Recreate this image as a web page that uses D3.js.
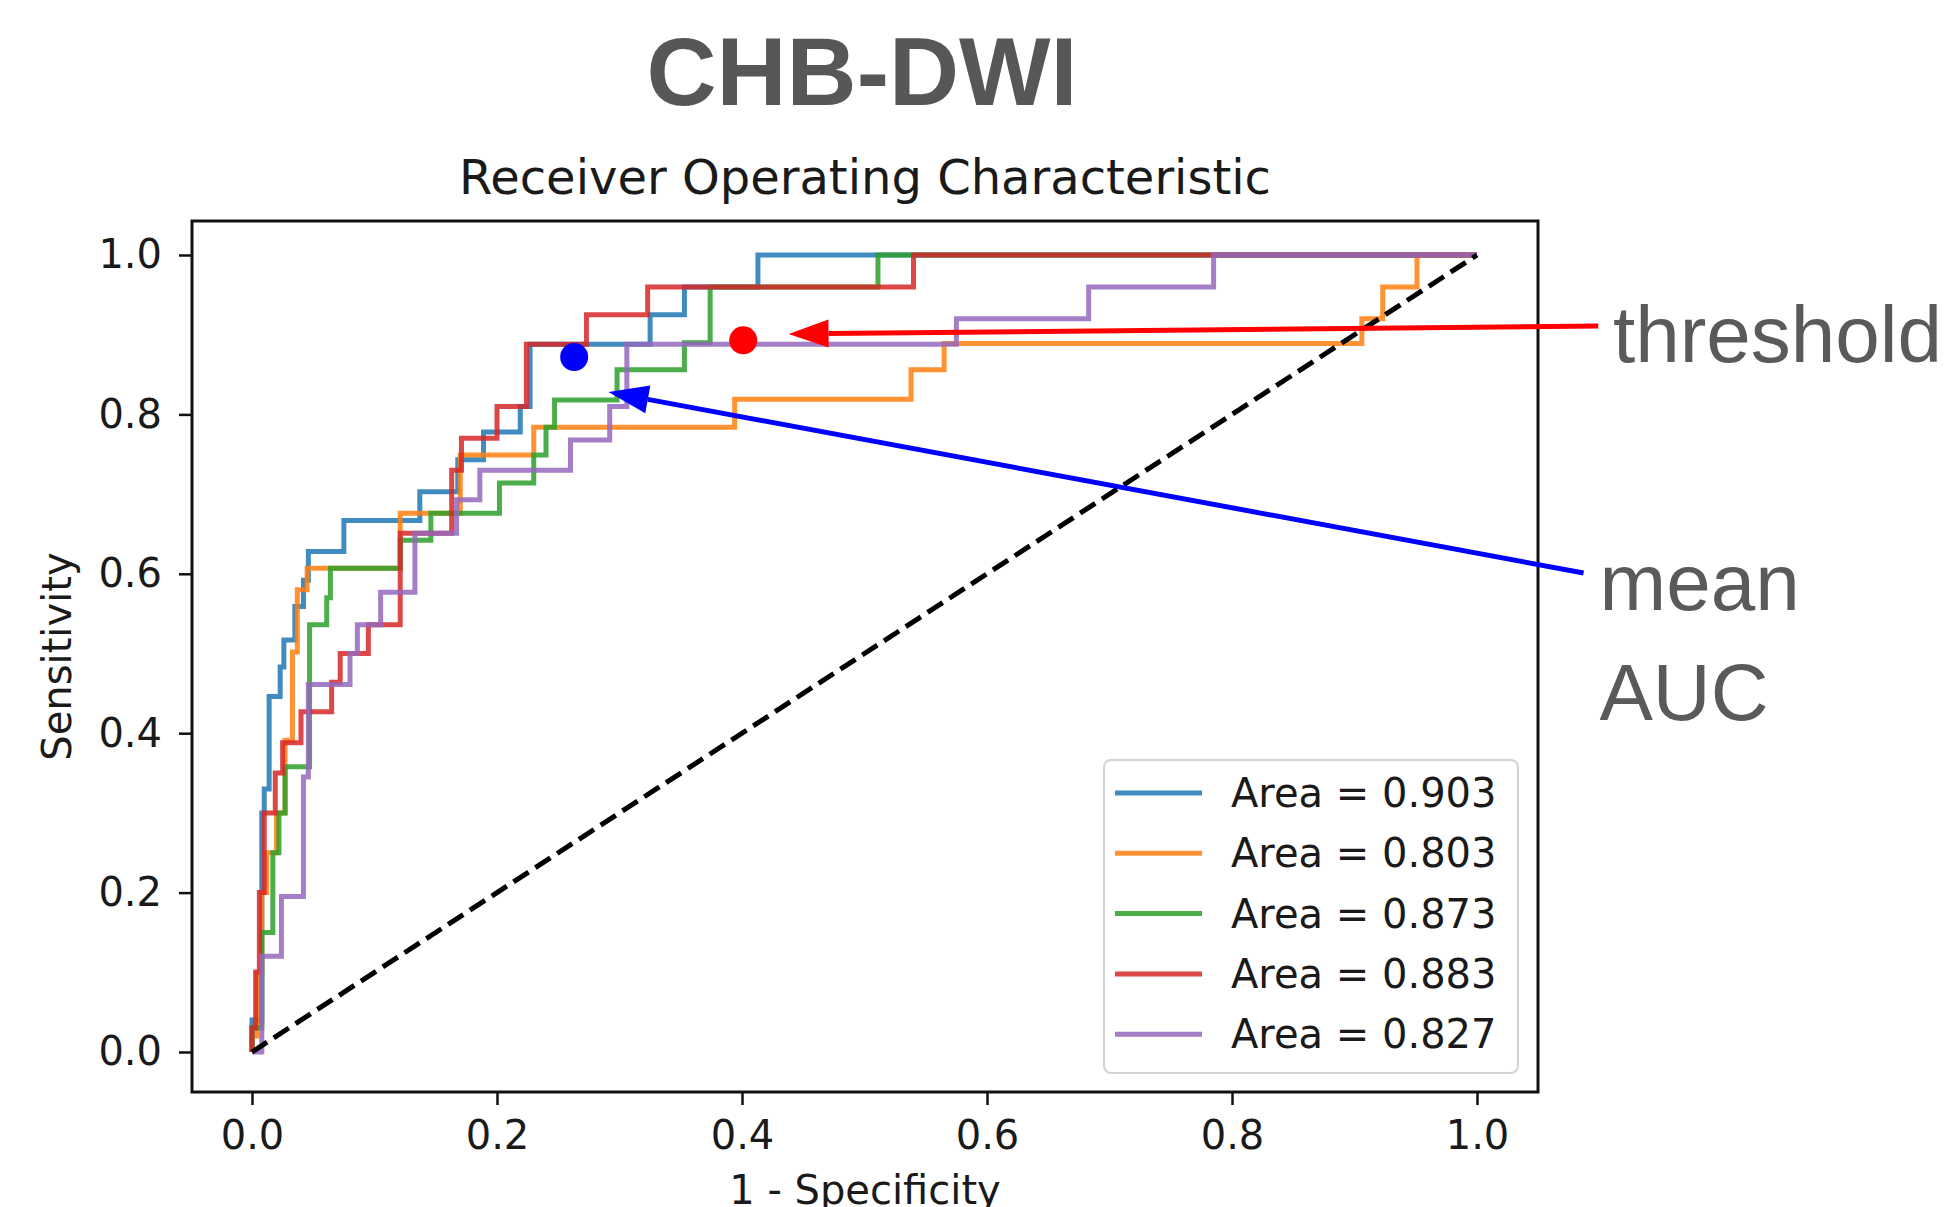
<!DOCTYPE html>
<html>
<head>
<meta charset="utf-8">
<script src="https://cdn.jsdelivr.net/npm/d3@7"></script>
<style>
	body { margin: 0; background: #ffffff; }
	svg { display: block; }
</style>
</head>
<body>
<div id="chart"></div>
<script>
// DATA
// ROC folds, one point per rise: [fpr, tpr], drawn with a step-after curve
const foldBlue = [[0,0],[0,0.04],[0.008,0.3],[0.01,0.33],[0.014,0.446],[0.023,0.483],[0.026,0.517],[0.035,0.559],[0.042,0.592],[0.046,0.628],[0.075,0.667],[0.137,0.703],[0.168,0.743],[0.189,0.778],[0.219,0.81],[0.227,0.888],[0.325,0.925],[0.353,0.96],[0.413,1],[1,1]];
const foldOrange = [[0,0],[0,0.02],[0.004,0.1],[0.008,0.2],[0.012,0.25],[0.02,0.3],[0.027,0.391],[0.033,0.502],[0.037,0.58],[0.045,0.607],[0.121,0.676],[0.17,0.749],[0.23,0.784],[0.394,0.819],[0.538,0.856],[0.565,0.889],[0.906,0.92],[0.923,0.96],[0.951,1],[1,1]];
const foldGreen = [[0,0],[0,0.03],[0.008,0.15],[0.017,0.25],[0.022,0.3],[0.027,0.358],[0.047,0.536],[0.061,0.57],[0.064,0.607],[0.121,0.642],[0.146,0.676],[0.202,0.714],[0.23,0.749],[0.24,0.784],[0.247,0.818],[0.298,0.856],[0.353,0.89],[0.374,0.96],[0.511,1],[1,1]];
const foldRed = [[0,0],[0,0.03],[0.003,0.1],[0.006,0.2],[0.01,0.3],[0.019,0.35],[0.025,0.388],[0.04,0.427],[0.065,0.464],[0.072,0.5],[0.095,0.536],[0.121,0.651],[0.163,0.73],[0.171,0.77],[0.2,0.81],[0.224,0.888],[0.273,0.925],[0.323,0.96],[0.54,1],[1,1]];
const foldPurple = [[0,0],[0.008,0.12],[0.024,0.195],[0.042,0.345],[0.046,0.461],[0.08,0.5],[0.086,0.536],[0.105,0.577],[0.133,0.651],[0.167,0.693],[0.186,0.73],[0.26,0.768],[0.292,0.81],[0.306,0.888],[0.575,0.92],[0.683,0.96],[0.785,1],[1,1]];
const folds = [foldBlue, foldOrange, foldGreen, foldRed, foldPurple];
const foldColours = ['#1f77b4', '#ff7f0e', '#2ca02c', '#d62728', '#9467bd'];
const legendLabels = ['Area = 0.903', 'Area = 0.803', 'Area = 0.873', 'Area = 0.883', 'Area = 0.827'];
const chanceLine = [[0,0],[1,1]];
const xTicks = [0, 0.2, 0.4, 0.6, 0.8, 1.0];
const yTicks = [0, 0.2, 0.4, 0.6, 0.8, 1.0];
// marked points: [fpr, tpr]
const meanAucPoint = [0.263, 0.872];
const thresholdPoint = [0.401, 0.893];
// annotation arrows: [tail, tip] in data units
const thresholdArrow = [[1.099, 0.911], [0.438, 0.901]];
const meanArrow = [[1.087, 0.601], [0.291, 0.828]];
const thresholdText = { text: 'threshold', at: [1.111, 0.866] };
const meanText = [{ text: 'mean', at: [1.1, 0.555] }, { text: 'AUC', at: [1.1, 0.417] }];

// LAYOUT
const width = 1954, height = 1207;
const frame = { left: 192, right: 1538, top: 221, bottom: 1092 };
const tickFont = "'DejaVu Sans', sans-serif";
const noteFont = "'Liberation Sans', Arial, sans-serif";

const svg = d3.select('#chart').append('svg')
	.attr('width', width)
	.attr('height', height);

const x = d3.scaleLinear().domain([0, 1]).range([252, 1477]);
const y = d3.scaleLinear().domain([0, 1]).range([1052, 255]);

// TITLES
svg.append('text')
	.attr('x', 862).attr('y', 105)
	.attr('text-anchor', 'middle')
	.style('font-family', noteFont)
	.style('font-weight', 'bold')
	.style('font-size', '97px')
	.attr('fill', '#575757')
	.text('CHB-DWI');

svg.append('text')
	.attr('x', (frame.left + frame.right) / 2).attr('y', 194)
	.attr('text-anchor', 'middle')
	.style('font-family', tickFont)
	.style('font-size', '48px')
	.attr('fill', '#1a1a1a')
	.text('Receiver Operating Characteristic');

// CURVES
const plot = svg.append('g');
const lineGen = d3.line()
	.x(d => x(d[0]))
	.y(d => y(d[1]))
	.curve(d3.curveStepAfter);

plot.selectAll('path.fold')
	.data(folds)
	.join('path')
	.classed('fold', true)
	.attr('d', lineGen)
	.attr('fill', 'none')
	.attr('stroke', (d, i) => foldColours[i])
	.attr('stroke-opacity', 0.85)
	.attr('stroke-width', 5)
	.attr('stroke-linejoin', 'miter');

plot.append('path')
	.datum(chanceLine)
	.attr('d', d3.line().x(d => x(d[0])).y(d => y(d[1])))
	.attr('fill', 'none')
	.attr('stroke', '#000000')
	.attr('stroke-width', 5)
	.attr('stroke-dasharray', '18,8');

// FRAME & AXES
svg.append('rect')
	.attr('x', frame.left).attr('y', frame.top)
	.attr('width', frame.right - frame.left)
	.attr('height', frame.bottom - frame.top)
	.attr('fill', 'none')
	.attr('stroke', '#111111')
	.attr('stroke-width', 3);

const xAxis = svg.append('g')
	.attr('transform', `translate(0,${frame.bottom})`)
	.call(d3.axisBottom(x).tickValues(xTicks).tickFormat(d3.format('.1f')).tickSize(13).tickPadding(16));
const yAxis = svg.append('g')
	.attr('transform', `translate(${frame.left},0)`)
	.call(d3.axisLeft(y).tickValues(yTicks).tickFormat(d3.format('.1f')).tickSize(13).tickPadding(17));
[xAxis, yAxis].forEach(ax => {
	ax.select('.domain').remove();
	ax.selectAll('.tick line').attr('stroke', '#111111').attr('stroke-width', 2.5);
	ax.selectAll('.tick text')
		.style('font-family', tickFont)
		.style('font-size', '40px')
		.attr('fill', '#1a1a1a');
});

svg.append('text')
	.attr('x', (frame.left + frame.right) / 2).attr('y', 1204)
	.attr('text-anchor', 'middle')
	.style('font-family', tickFont)
	.style('font-size', '40px')
	.attr('fill', '#1a1a1a')
	.text('1 - Specificity');

svg.append('text')
	.attr('transform', `translate(71,${(frame.top + frame.bottom) / 2}) rotate(-90)`)
	.attr('text-anchor', 'middle')
	.style('font-family', tickFont)
	.style('font-size', '40px')
	.attr('fill', '#1a1a1a')
	.text('Sensitivity');

// LEGEND
const legend = svg.append('g').attr('transform', 'translate(1104,760)');
legend.append('rect')
	.attr('width', 414).attr('height', 313)
	.attr('rx', 7)
	.attr('fill', '#ffffff').attr('fill-opacity', 0.8)
	.attr('stroke', '#d3d3d3').attr('stroke-width', 2);
const rows = legend.selectAll('g.row')
	.data(legendLabels)
	.join('g')
	.classed('row', true)
	.attr('transform', (d, i) => `translate(0,${33 + i * 60.3})`);
rows.append('line')
	.attr('x1', 11).attr('x2', 98)
	.attr('stroke', (d, i) => foldColours[i])
	.attr('stroke-opacity', 0.85)
	.attr('stroke-width', 5);
rows.append('text')
	.attr('x', 127).attr('y', 14)
	.style('font-family', tickFont)
	.style('font-size', '40px')
	.attr('fill', '#1a1a1a')
	.text(d => d);

// MARKED POINTS
svg.append('circle')
	.attr('cx', x(meanAucPoint[0])).attr('cy', y(meanAucPoint[1]))
	.attr('r', 14).attr('fill', '#0000ff');
svg.append('circle')
	.attr('cx', x(thresholdPoint[0])).attr('cy', y(thresholdPoint[1]))
	.attr('r', 14).attr('fill', '#ff0000');

// ANNOTATION ARROWS
function arrow(pts, colour) {
	const [t0, t1] = pts;
	const x0 = x(t0[0]), y0 = y(t0[1]), x1 = x(t1[0]), y1 = y(t1[1]);
	const ang = Math.atan2(y1 - y0, x1 - x0);
	const len = 40, half = 14;
	const bx = x1 - len * Math.cos(ang), by = y1 - len * Math.sin(ang);
	svg.append('line')
		.attr('x1', x0).attr('y1', y0)
		.attr('x2', bx).attr('y2', by)
		.attr('stroke', colour).attr('stroke-width', 5);
	svg.append('path')
		.attr('d', `M${x1},${y1} L${bx - half * Math.sin(ang)},${by + half * Math.cos(ang)} L${bx + half * Math.sin(ang)},${by - half * Math.cos(ang)} Z`)
		.attr('fill', colour);
}
arrow(thresholdArrow, '#ff0000');
arrow(meanArrow, '#0000ff');

svg.selectAll('text.note')
	.data([thresholdText, ...meanText])
	.join('text')
	.classed('note', true)
	.attr('x', d => x(d.at[0]))
	.attr('y', d => y(d.at[1]))
	.style('font-family', noteFont)
	.style('font-size', '80px')
	.attr('fill', '#5a5a5a')
	.text(d => d.text);
</script>
</body>
</html>
